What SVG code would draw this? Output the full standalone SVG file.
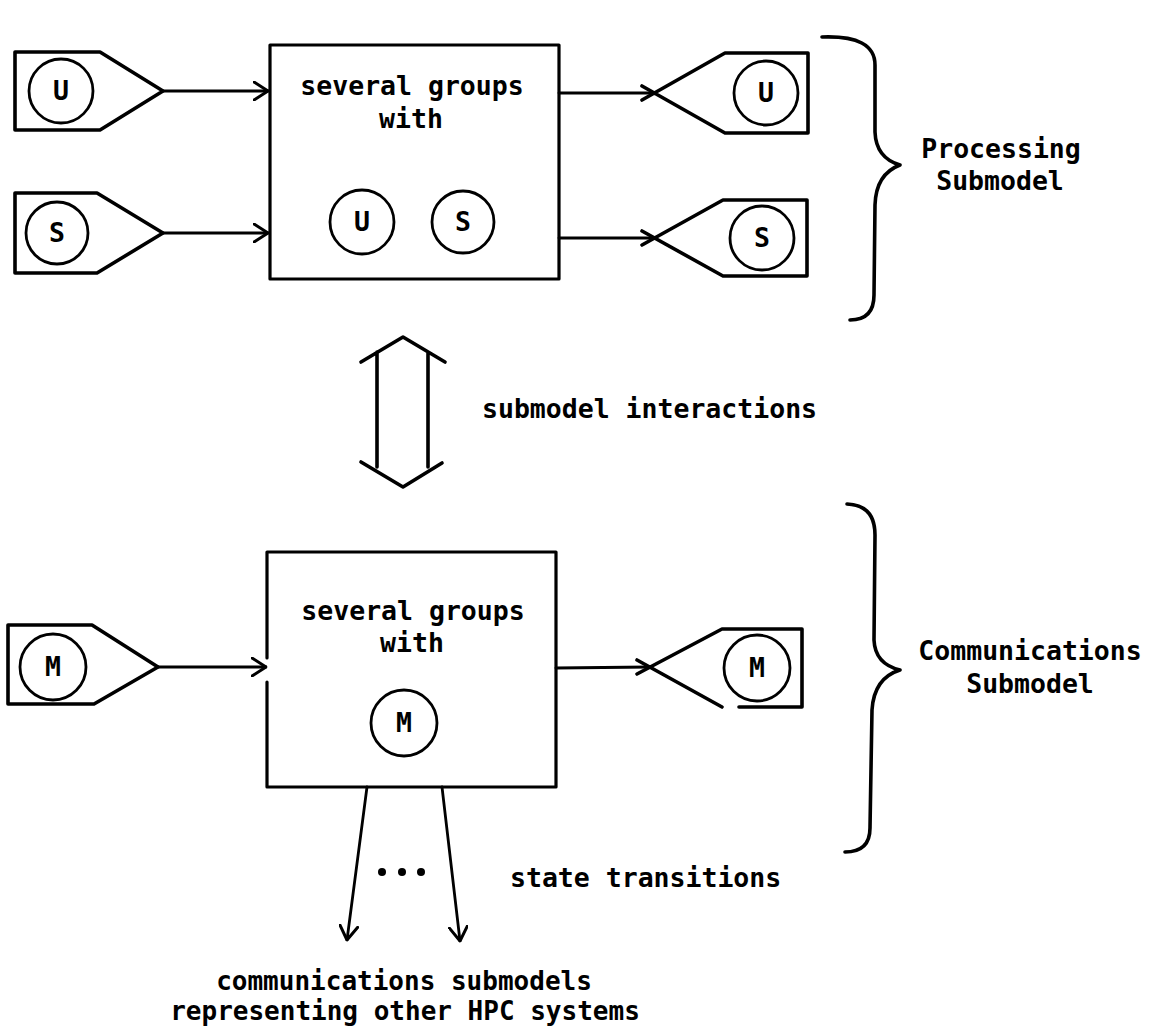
<svg xmlns="http://www.w3.org/2000/svg" width="1157" height="1026" viewBox="0 0 1157 1026">
  <style>
    .shape { fill: none; stroke: #000; stroke-width: 3.6; stroke-linejoin: round; stroke-linecap: round; }
    .box { fill: none; stroke: #000; stroke-width: 3.2; stroke-linejoin: round; stroke-linecap: round; }
    .tok { fill: none; stroke: #000; stroke-width: 2.8; }
    .wire { fill: none; stroke: #000; stroke-width: 2.8; stroke-linecap: round; }
    .brace { fill: none; stroke: #000; stroke-width: 3.6; stroke-linecap: round; stroke-linejoin: round; }
    .t { font-family: "DejaVu Sans Mono", "Liberation Mono", monospace; font-weight: bold; font-size: 26.5px; fill: #000; }
    .s { font-size: 26px; }
    .c { text-anchor: middle; }
  </style>
  <defs>
    <marker id="open" markerUnits="userSpaceOnUse" viewBox="0 0 16 20" refX="15" refY="10" markerWidth="16" markerHeight="20" orient="auto">
      <path d="M1 1 L15 10 L1 19" fill="none" stroke="#000" stroke-width="3" stroke-linecap="round" stroke-linejoin="round"/>
    </marker>
  </defs>
  <rect width="1157" height="1026" fill="#fff"/>

  <!-- processing submodel: sources -->
  <g id="src-u">
    <path class="shape" d="M15 52 L100 52 L163 91 L100 130 L15 130 Z"/>
    <circle class="tok" cx="61" cy="91" r="32"/>
    <text class="t c" x="61" y="100">U</text>
  </g>
  <g id="src-s">
    <path class="shape" d="M15 193 L97 193 L163 233 L97 273 L15 273 Z"/>
    <circle class="tok" cx="57" cy="233" r="31"/>
    <text class="t c" x="57" y="242">S</text>
  </g>

  <!-- processing submodel: group box -->
  <g id="proc-box">
    <rect class="box" x="270" y="45" width="289" height="234"/>
    <text class="t c" x="412" y="95">several groups</text>
    <text class="t c" x="411" y="128">with</text>
    <circle class="tok" cx="362" cy="222" r="32"/>
    <text class="t c" x="362" y="231">U</text>
    <circle class="tok" cx="463" cy="222" r="31"/>
    <text class="t c" x="463" y="231">S</text>
  </g>

  <!-- processing submodel: sinks -->
  <g id="sink-u">
    <path class="shape" d="M642 86 L725 133 L808 133 L808 53 L725 53 L642 100"/>
    <circle class="tok" cx="766" cy="93" r="32"/>
    <text class="t c" x="766" y="102">U</text>
  </g>
  <g id="sink-s">
    <path class="shape" d="M642 231 L723 276 L807 276 L807 200 L723 200 L642 245"/>
    <circle class="tok" cx="762" cy="238" r="32"/>
    <text class="t c" x="762" y="247">S</text>
  </g>

  <!-- communications submodel -->
  <g id="src-m">
    <path class="shape" d="M8 625 L92 625 L158 667 L94 704 L8 704 Z"/>
    <circle class="tok" cx="53" cy="667" r="33"/>
    <text class="t c" x="53" y="676">M</text>
  </g>
  <g id="comm-box">
    <path class="box" d="M267 658 L267 552 L556 552 L556 787 L267 787 L267 682"/>
    <text class="t c" x="413" y="620">several groups</text>
    <text class="t c" x="412" y="652">with</text>
    <circle class="tok" cx="404" cy="723" r="33"/>
    <text class="t c" x="404" y="732">M</text>
  </g>
  <g id="sink-m">
    <path class="shape" d="M637 660 L722 707 M739 707 L802 707 L802 629 L722 629 L637 674"/>
    <circle class="tok" cx="757" cy="668" r="33"/>
    <text class="t c" x="757" y="677">M</text>
  </g>

  <!-- braces and their labels -->
  <g id="brace-proc">
    <path class="brace" d="M822 37 Q875 35 875 65 L875 132 Q876 158 900 165 Q876 174 875 205 L874 295 Q874 320 850 320"/>
    <text class="t c" x="1001" y="158">Processing</text>
    <text class="t c" x="1000" y="190">Submodel</text>
  </g>
  <g id="brace-comm">
    <path class="brace" d="M847 504 Q875 505 875 535 L874 640 Q875 664 900 670 Q874 678 872 710 L870 828 Q870 852 845 852"/>
    <text class="t c" x="1030" y="660">Communications</text>
    <text class="t c" x="1030" y="693">Submodel</text>
  </g>

  <!-- interaction between the two submodels -->
  <g id="interaction">
    <path class="shape" d="M361 362 L403 337 L445 362 M377 352 L377 467 M428 352 L428 467 M361 462 L403 487 L442 463"/>
    <text class="t" x="482" y="418">submodel interactions</text>
  </g>

  <!-- connectors -->
  <g id="connectors">
    <line class="wire" x1="163" y1="91" x2="268" y2="91" marker-end="url(#open)"/>
    <line class="wire" x1="163" y1="233" x2="268" y2="233" marker-end="url(#open)"/>
    <line class="wire" x1="559" y1="93" x2="655" y2="93"/>
    <line class="wire" x1="559" y1="238" x2="655" y2="238"/>
    <line class="wire" x1="158" y1="667" x2="266" y2="667" marker-end="url(#open)"/>
    <line class="wire" x1="556" y1="668" x2="650" y2="667"/>
    <line class="wire" x1="367" y1="787" x2="347" y2="940" marker-end="url(#open)"/>
    <line class="wire" x1="442" y1="787" x2="460" y2="941" marker-end="url(#open)"/>
  </g>

  <!-- state transitions to other systems -->
  <g id="transitions">
    <circle cx="382" cy="872" r="4"/>
    <circle cx="402" cy="872" r="4"/>
    <circle cx="421" cy="872" r="4"/>
    <text class="t" x="510" y="887">state transitions</text>
    <text class="t s c" x="404" y="990">communications submodels</text>
    <text class="t s c" x="405" y="1020">representing other HPC systems</text>
  </g>
</svg>
